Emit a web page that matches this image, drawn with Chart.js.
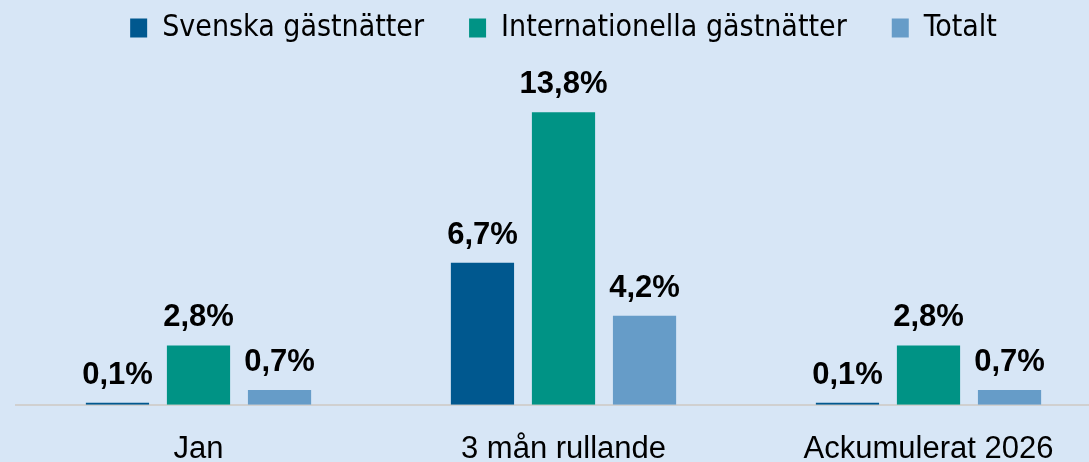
<!DOCTYPE html>
<html>
<head>
    <meta charset="utf-8">
    <title>Gästnätter</title>
    <script src="https://cdn.jsdelivr.net/npm/chart.js"></script>
    <style>
        html, body {
            margin: 0;
            padding: 0;
            background-color: #d7e6f6;
            overflow: hidden;
        }

        .chart-box {
            position: absolute;
            left: 0;
            top: 0;
            width: 1111px;
            height: 494px;
        }
    </style>
</head>
<body>
    <div class="chart-box">
        <canvas id="myChart"></canvas>
    </div>

    <script>
        // data
        var categories = ['Jan', '3 mån rullande', 'Ackumulerat 2026'];
        var seriesNames = ['Svenska gästnätter', 'Internationella gästnätter', 'Totalt'];
        var svenska = [0.1, 6.7, 0.1];
        var internationella = [2.8, 13.8, 2.8];
        var totalt = [0.7, 4.2, 0.7];

        var colors = ['#00588f', '#009385', '#669cc8'];

        // labels above bars, bold
        var valueLabels = {
            id: 'valueLabels',
            afterDatasetsDraw: function (chart) {
                var ctx = chart.ctx;
                ctx.save();
                ctx.font = 'bold 31px "Liberation Sans", Arial, sans-serif';
                ctx.fillStyle = '#000';
                ctx.textAlign = 'center';
                ctx.textBaseline = 'alphabetic';
                chart.data.datasets.forEach(function (ds, i) {
                    var meta = chart.getDatasetMeta(i);
                    meta.data.forEach(function (bar, j) {
                        var txt = ds.data[j].toFixed(1).replace('.', ',') + '%';
                        ctx.fillText(txt, bar.x, bar.y - 19);
                    });
                });
                ctx.restore();
            }
        };

        var ctx = document.getElementById('myChart').getContext('2d');
        var myChart = new Chart(ctx, {
            type: 'bar',
            data: {
                labels: categories,
                datasets: [
                    { label: seriesNames[0], data: svenska, backgroundColor: colors[0] },
                    { label: seriesNames[1], data: internationella, backgroundColor: colors[1] },
                    { label: seriesNames[2], data: totalt, backgroundColor: colors[2] }
                ]
            },
            options: {
                responsive: true,
                maintainAspectRatio: false,
                animation: false,
                datasets: {
                    bar: {
                        categoryPercentage: 0.666,
                        barPercentage: 0.78
                    }
                },
                layout: {
                    padding: { left: 16, right: 0, top: -32, bottom: 0 }
                },
                plugins: {
                    legend: {
                        position: 'top',
                        labels: {
                            color: '#000',
                            font: { family: '"DejaVu Sans Condensed", sans-serif', size: 30 },
                            boxWidth: 17,
                            boxHeight: 19,
                            padding: 45
                        }
                    },
                    tooltip: { enabled: false }
                },
                scales: {
                    x: {
                        grid: { display: false, drawTicks: false },
                        border: { display: true, color: '#d0d0d0', width: 2 },
                        ticks: {
                            color: '#000',
                            padding: 26,
                            font: { family: '"Liberation Sans", Arial, sans-serif', size: 31 }
                        }
                    },
                    y: {
                        display: false,
                        min: 0,
                        max: 16.6
                    }
                }
            },
            plugins: [valueLabels]
        });
    </script>
</body>
</html>
